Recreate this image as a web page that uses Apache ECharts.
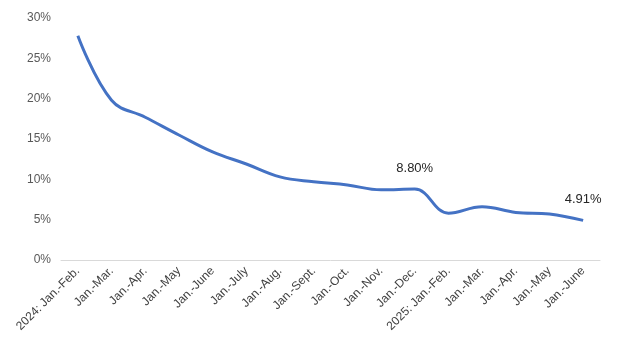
<!DOCTYPE html>
<html>
<head>
<meta charset="utf-8">
<script src="https://cdn.jsdelivr.net/npm/echarts@6/dist/echarts.min.js"></script>
<style>
  html, body { margin: 0; padding: 0; background: #fff; }
  #chart { width: 620px; height: 351px; }
</style>
</head>
<body>
<div id="chart"></div>
<script>
// 累计增速（%）
var periods = ['2024: Jan.-Feb.', 'Jan.-Mar.', 'Jan.-Apr.', 'Jan.-May', 'Jan.-June', 'Jan.-July',
  'Jan.-Aug.', 'Jan.-Sept.', 'Jan.-Oct.', 'Jan.-Nov.', 'Jan.-Dec.', '2025: Jan.-Feb.',
  'Jan.-Mar.', 'Jan.-Apr.', 'Jan.-May', 'Jan.-June'];
var growth = [27.8, 19.8, 17.7, 15.5, 13.4, 11.9, 10.3, 9.7, 9.3, 8.7, 8.80, 5.8, 6.6, 5.9, 5.7, 4.91];
var labelled = [10, 15]; // 只标注这两个点

var myChart = echarts.init(document.getElementById('chart'));

var seriesData = growth.map(function (v, i) {
  if (labelled.indexOf(i) < 0) return v;
  return {
    value: v,
    label: {
      show: true,
      position: 'top',
      distance: 14,
      color: '#262626',
      fontSize: 13,
      fontFamily: 'Liberation Sans, Arial, sans-serif',
      formatter: function (p) { return p.value.toFixed(2) + '%'; }
    }
  };
});

var option = {
  animation: false,
  grid: { left: 61, right: 20, top: 18, bottom: 91 },
  xAxis: {
    type: 'category',
    data: periods,
    boundaryGap: true,
    axisLine: { lineStyle: { color: '#d9d9d9', width: 1 } },
    axisTick: { show: false },
    axisLabel: {
      interval: 0,
      rotate: 45,
      color: '#404040',
      fontSize: 12,
      fontFamily: 'Liberation Sans, Arial, sans-serif',
      margin: 9
    }
  },
  yAxis: {
    type: 'value',
    min: 0,
    max: 30,
    interval: 5,
    splitLine: { show: false },
    axisLine: { show: false },
    axisTick: { show: false },
    axisLabel: {
      color: '#595959',
      fontSize: 12,
      fontFamily: 'Liberation Sans, Arial, sans-serif',
      margin: 10,
      formatter: '{value}%'
    }
  },
  series: [
    {
      type: 'line',
      data: seriesData,
      smooth: 0.4,
      symbol: 'circle',
      symbolSize: 0,
      showAllSymbol: true,
      lineStyle: { color: '#4472c4', width: 3 },
      itemStyle: { color: '#4472c4' }
    }
  ]
};
myChart.setOption(option);
</script>
</body>
</html>
